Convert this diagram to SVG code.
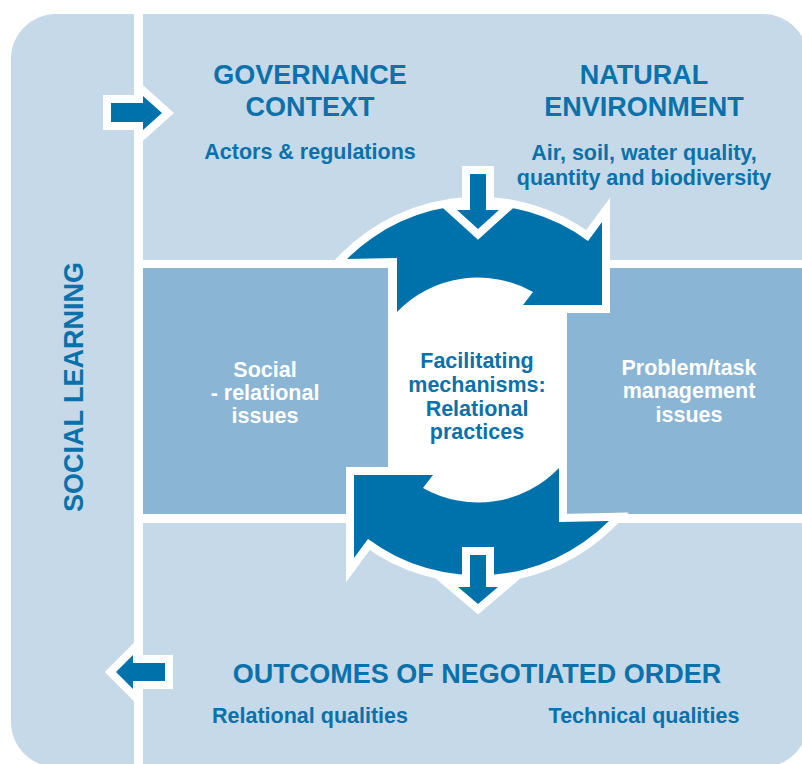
<svg xmlns="http://www.w3.org/2000/svg" width="802" height="764" viewBox="0 0 802 764">
  <style>
    text { font-family: 'Liberation Sans', Arial, sans-serif; font-weight: bold; text-anchor: middle; }
    .head { font-size: 27px; fill: #0a71aa; }
    .sub { font-size: 21.5px; fill: #0a71aa; }
    .white { font-size: 21.5px; fill: #ffffff; }
    .arrow { fill: #0072ab; stroke: #ffffff; stroke-width: 16; paint-order: stroke; stroke-linejoin: miter; stroke-miterlimit: 4; }
    .light { fill: #c5d9e8; }
    .box { fill: #8bb5d5; }
  </style>
  <defs>
    <path id="bigArrow" d="M 347,259 A 185 185 0 0 1 588,241 L 602,222 L 602,305 L 523,305 L 533,292 A 112 112 0 0 0 397,312 L 397,258 Z"/>
  </defs>

  <rect width="802" height="764" fill="#ffffff"/>

  <!-- background panel -->
  <rect x="11" y="14" width="797" height="753" rx="45" ry="45" class="light"/>
  <!-- vertical white divider -->
  <rect x="134" y="0" width="9" height="764" fill="#ffffff"/>
  <!-- middle white band -->
  <rect x="143" y="260" width="665" height="263" fill="#ffffff"/>

  <g id="social-relational">
    <rect x="143" y="268" width="245" height="246" class="box"/>
    <text class="white" x="265" y="377">Social</text>
    <text class="white" x="265" y="400">- relational</text>
    <text class="white" x="265" y="423">issues</text>
  </g>

  <g id="problem-task">
    <rect x="567" y="268" width="241" height="246" class="box"/>
    <text class="white" x="689" y="375">Problem/task</text>
    <text class="white" x="689" y="398">management</text>
    <text class="white" x="689" y="422">issues</text>
  </g>

  <g id="connectors">
    <use href="#bigArrow" class="arrow"/>
    <use href="#bigArrow" class="arrow" transform="rotate(180 478 390)"/>
    <!-- small down arrows -->
    <polygon class="arrow" points="470,174 486,174 486,210 499,210 478,229 457,210 470,210"/>
    <polygon class="arrow" points="470,555 486,555 486,587 498,587 478,604 458,587 470,587"/>
    <!-- side arrows -->
    <polygon class="arrow" points="111,103 143,103 143,96 162,113 143,130 143,122 111,122"/>
    <polygon class="arrow" points="165,663 133,663 133,655 116,672 133,689 133,681 165,681"/>
  </g>

  <g id="governance-context">
    <text class="head" x="310" y="84">GOVERNANCE</text>
    <text class="head" x="310" y="116">CONTEXT</text>
    <text class="sub" x="310" y="159">Actors &amp; regulations</text>
  </g>

  <g id="natural-environment">
    <text class="head" x="644" y="84">NATURAL</text>
    <text class="head" x="644" y="116">ENVIRONMENT</text>
    <text class="sub" x="644" y="160">Air, soil, water quality,</text>
    <text class="sub" x="644" y="185">quantity and biodiversity</text>
  </g>

  <g id="facilitating-mechanisms">
    <text class="sub" x="477" y="368">Facilitating</text>
    <text class="sub" x="477" y="392">mechanisms:</text>
    <text class="sub" x="477" y="416">Relational</text>
    <text class="sub" x="477" y="439">practices</text>
  </g>

  <g id="social-learning">
    <text class="head" transform="translate(83,387) rotate(-90)">SOCIAL LEARNING</text>
  </g>

  <g id="outcomes">
    <text class="head" x="477" y="683">OUTCOMES OF NEGOTIATED ORDER</text>
    <text class="sub" x="310" y="723">Relational qualities</text>
    <text class="sub" x="644" y="723">Technical qualities</text>
  </g>
</svg>
